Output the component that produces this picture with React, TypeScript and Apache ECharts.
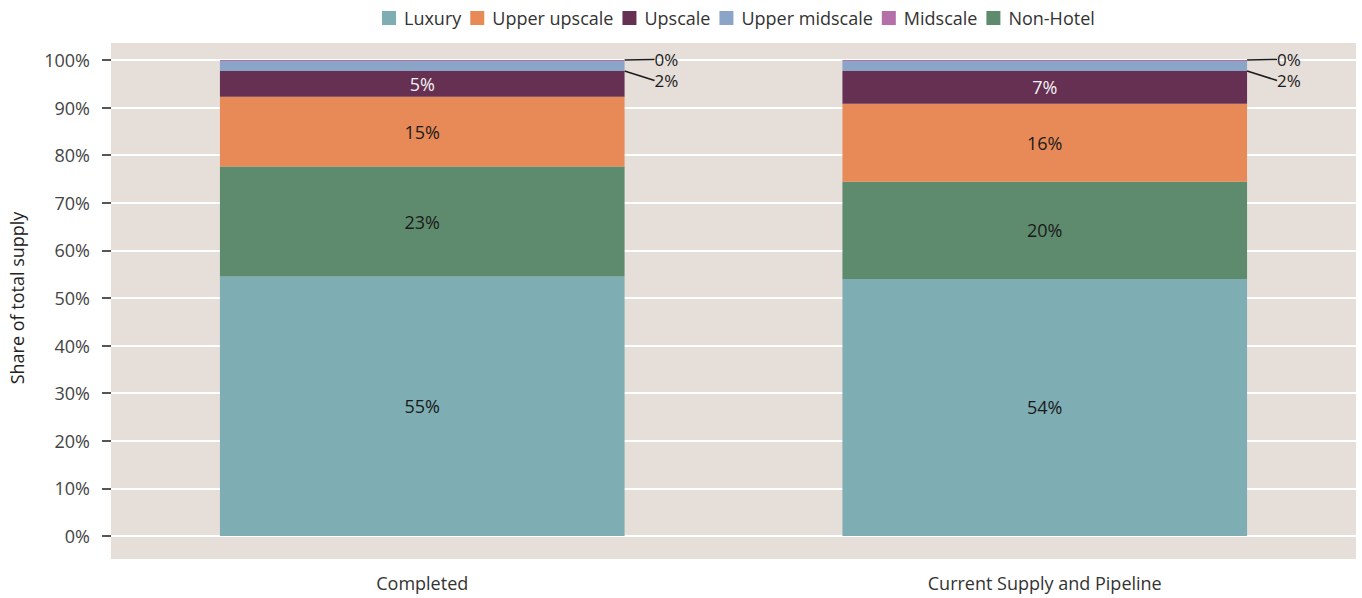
import React, { useEffect, useRef } from "react";
import * as echarts from "echarts";

const categories = ["Completed", "Current Supply and Pipeline"];
const luxury = [54.5, 54.0];
const nonHotel = [23.1, 20.4];
const upperUpscale = [14.7, 16.4];
const upscale = [5.4, 6.9];
const upperMidscale = [2.1, 2.1];
const midscale = [0.2, 0.2];
const legendOrder = ["Luxury", "Upper upscale", "Upscale", "Upper midscale", "Midscale", "Non-Hotel"];
const yTicks = [0, 10, 20, 30, 40, 50, 60, 70, 80, 90, 100];

const FONT = "'Open Sans', sans-serif";
const FS = 18;

export default function App() {
  const ref = useRef<HTMLDivElement>(null);
  useEffect(() => {
    if (!ref.current) return;
    const chart = echarts.init(ref.current, undefined, { renderer: "svg" });
    const fmt = (p: any) => Math.round(p.value) + "%";
    const inside = (color: string) => ({
      show: true,
      position: "inside",
      formatter: fmt,
      color,
      fontSize: FS,
      fontFamily: FONT,
    });
    const mk = (name: string, data: number[], color: string, label: any, extra: any = {}) => ({
      name,
      type: "bar",
      stack: "total",
      barWidth: "65%",
      data,
      itemStyle: { color },
      label,
      ...extra,
    });
    const outsideLabel = {
      show: true,
      position: "right",
      formatter: fmt,
      color: "#1a1a1a",
      fontSize: 17,
      lineHeight: 14,
      fontFamily: FONT,
    };
    chart.setOption({
      animation: false,
      textStyle: { fontFamily: FONT },
      graphic: [
        {
          type: "rect",
          z: -100,
          shape: { x: 111, y: 43, width: 1245, height: 516 },
          style: { fill: "#e5ded9" },
          silent: true,
        },
      ],
      legend: {
        data: legendOrder,
        top: 4,
        left: 377,
        itemWidth: 14,
        itemHeight: 14,
        itemGap: 9,
        icon: "rect",
        textStyle: { fontSize: FS, color: "#333", fontFamily: FONT, padding: [0, 0, 0, 3] },
      },
      grid: { left: 111, right: 6, top: 60, bottom: 62, outerBoundsMode: "none", containLabel: false },
      xAxis: {
        type: "category",
        data: categories,
        axisLine: { show: false },
        axisTick: { show: false },
        axisLabel: { margin: 38, fontSize: FS, color: "#333", fontFamily: FONT },
      },
      yAxis: {
        type: "value",
        min: 0,
        max: 100,
        interval: 10,
        name: "Share of total supply",
        nameLocation: "middle",
        nameGap: 85,
        nameRotate: 90,
        nameTextStyle: { fontSize: FS, color: "#222", fontFamily: FONT },
        axisLine: { show: false },
        axisTick: { show: true, length: 9, lineStyle: { color: "#555", width: 2 } },
        axisLabel: {
          margin: 21,
          fontSize: FS,
          color: "#444",
          fontFamily: FONT,
          formatter: (v: number) => (yTicks.includes(v) ? v + "%" : ""),
        },
        splitLine: { show: true, lineStyle: { color: "#ffffff", width: 2 } },
      },
      series: [
        mk("Luxury", luxury, "#7eadb4", inside("#1a1a1a")),
        mk("Non-Hotel", nonHotel, "#5e8b6e", inside("#1a1a1a")),
        mk("Upper upscale", upperUpscale, "#e88a57", inside("#1a1a1a")),
        mk("Upscale", upscale, "#663052", inside("#f2f2f2")),
        mk("Upper midscale", upperMidscale, "#8aa5c8", outsideLabel, {
          labelLine: { show: true, lineStyle: { color: "#1a1a1a", width: 1.5 } },
          labelLayout: (p: any) => {
            const r = p.rect;
            const right = r.x + r.width;
            return {
              x: right + 30,
              y: r.y + 19.5,
              align: "left",
              verticalAlign: "middle",
              labelLinePoints: [
                [right - 7, r.y + 7],
                [right + 9, r.y + 11],
                [right + 25, r.y + 15],
              ],
            };
          },
        }),
        mk("Midscale", midscale, "#b46fa8", outsideLabel, {
          labelLine: { show: true, lineStyle: { color: "#1a1a1a", width: 1.5 } },
          labelLayout: (p: any) => {
            const r = p.rect;
            const right = r.x + r.width;
            return {
              x: right + 30,
              y: r.y - 0.5,
              align: "left",
              verticalAlign: "middle",
              labelLinePoints: [
                [right - 3, r.y],
                [right + 10, r.y],
                [right + 24, r.y],
              ],
            };
          },
        }),
      ],
    });
    return () => chart.dispose();
  }, []);
  return <div ref={ref} style={{ position: "absolute", left: 0, top: 0, width: 1362, height: 598 }} />;
}
